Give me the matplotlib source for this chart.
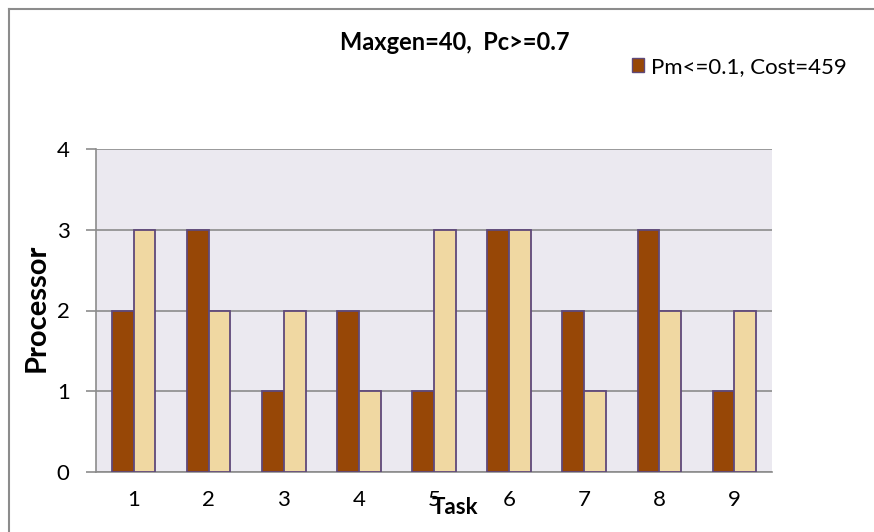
import matplotlib
matplotlib.use("Agg")
import matplotlib.pyplot as plt
import numpy as np
from matplotlib.lines import Line2D
from matplotlib.patches import Patch

tasks = ["1", "2", "3", "4", "5", "6", "7", "8", "9"]
series_a = [2, 3, 1, 2, 1, 3, 2, 3, 1]
series_b = [3, 2, 2, 1, 3, 3, 1, 2, 2]
legend_label = "Pm<=0.1, Cost=459"
title = "Maxgen=40,  Pc>=0.7"
yticks = [0, 1, 2, 3, 4]

plt.rcParams['font.family'] = ['Lato', 'DejaVu Sans']

fig = plt.figure(figsize=(8.74, 5.32), dpi=100)
ax = fig.add_axes([96/874, 1-472/532, (772-96)/874, (472-149)/532])

x = np.arange(len(tasks))
w = 0.29
edge = "#5F497A"
ax.bar(x - w/2, series_a, width=w, color="#974706", edgecolor=edge, linewidth=1.3, zorder=3)
ax.bar(x + w/2, series_b, width=w, color="#F0D8A2", edgecolor=edge, linewidth=1.3, zorder=3)

ax.set_facecolor("#EBE9F0")
ax.set_xlim(-0.5, len(tasks) - 0.5)
ax.set_ylim(0, 4)
ax.set_yticks(yticks)
ax.set_xticks(x)
ax.set_xticklabels(tasks, fontsize=16)
ax.set_yticklabels([str(t) for t in yticks], fontsize=16)
ax.yaxis.grid(True, color="#8C8C8C", linewidth=1.2, zorder=1)
ax.set_axisbelow(True)
for s in ["top", "right"]:
    ax.spines[s].set_visible(False)
for s in ["left", "bottom"]:
    ax.spines[s].set_color("#8C8C8C")
    ax.spines[s].set_linewidth(1.2)
ax.tick_params(axis="y", length=7, color="#8C8C8C", width=1.2, pad=12)
ax.tick_params(axis="x", length=0, pad=13)

fig.text(455/874, 1-507/532, "Task", fontsize=16, fontweight="bold", ha="center", va="center")
fig.text(37/874, 1-308/532, "Processor", fontsize=21, fontweight="bold", ha="center", va="center", rotation=90)
fig.text(455/874, 1-43/532, title, fontsize=17, fontweight="bold", ha="center", va="center")

leg_handle = Patch(facecolor="#974706", edgecolor=edge, linewidth=1.0)
fig.legend([leg_handle], [legend_label], loc="center left", bbox_to_anchor=(632/874, 1-67/532),
           frameon=False, fontsize=16, handlelength=0.55, handleheight=0.55, handletextpad=0.3,
           borderpad=0, borderaxespad=0)

# outer chart frame (partially cropped)
fig.add_artist(Line2D([9/874, 1], [1-9/532, 1-9/532], color="#8C8C8C", linewidth=1.5, transform=fig.transFigure))
fig.add_artist(Line2D([9/874, 9/874], [0, 1-9/532], color="#8C8C8C", linewidth=1.5, transform=fig.transFigure))

fig.savefig("out.png", dpi=100)
